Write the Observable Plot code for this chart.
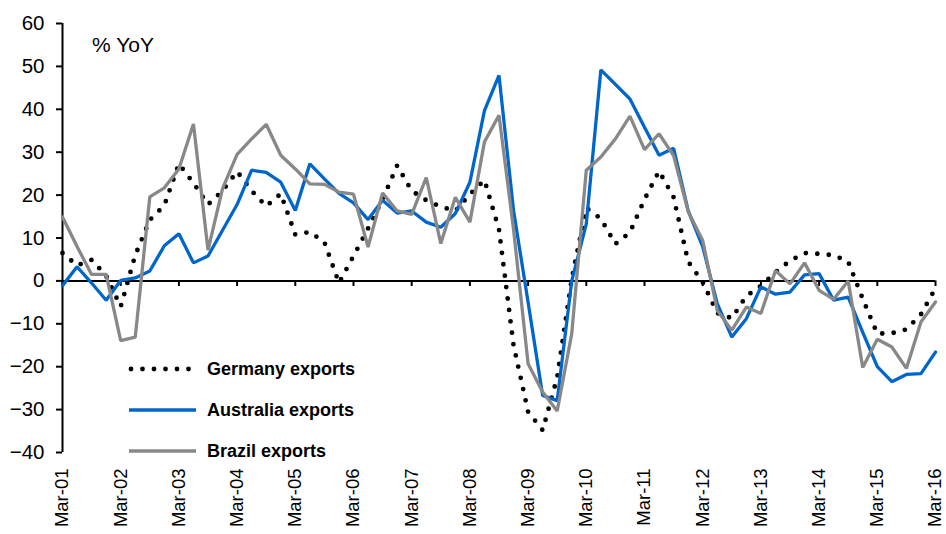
<!DOCTYPE html>
<html>
<head>
<meta charset="utf-8">
<script src="https://cdn.jsdelivr.net/npm/d3@7"></script>
<script src="https://cdn.jsdelivr.net/npm/@observablehq/plot@0.6"></script>
<style>
  html, body { margin: 0; padding: 0; background: #fff; }
  #wrap { position: relative; width: 946px; height: 534px; font-family: "Liberation Sans", Arial, sans-serif; color: #000; }
  #wrap svg.plot { display: block; }
  .unit { position: absolute; left: 92px; top: 34px; font-size: 21px; line-height: 1; }
  .legend { position: absolute; left: 128px; top: 355px; }
  .legend .item { position: absolute; left: 0; height: 28px; width: 260px; }
  .legend .item svg { position: absolute; left: 0; top: 0; }
  .legend .item span { position: absolute; left: 79px; top: 3px; font-size: 18px; font-weight: bold; line-height: 22px; white-space: nowrap; }
</style>
</head>
<body>
<div id="wrap"></div>
<script>
// Quarterly % YoY, Mar-01 .. Mar-16
const germany = [6.5, 3.6, 4.9, 1.2, -6, 6, 14.2, 17.6, 27.3, 22.8, 17.8, 21, 25.5, 21, 17.4, 20.3,
  10.8, 11.4, 9, -0.5, 5.8, 12.2, 19, 26.9, 21, 18.8, 17.3, 16.3, 20.2, 23.5, 12, -15, -30.5, -34.8,
  -22.5, 0.5, 17, 14.5, 8.6, 11.3, 19, 25.6, 19.5, 4.5, -0.3, -7.5, -8.7, -3.5, -1.2, 2, 4.7, 6.5,
  6.3, 6, 4.5, -4.2, -12.3, -12.2, -11.3, -7.8, -1.7];
const australia = [-1.1, 3.3, -0.5, -4.5, 0.1, 0.7, 2.3, 8.2, 11, 4.2, 5.8, 11.8, 17.8, 25.8, 25.3, 23,
  16.4, 27.3, 23.8, 20.4, 18.2, 14.3, 18.8, 15.8, 16.3, 13.7, 12.5, 15.7, 23, 39.7, 47.9, 16.4, -5,
  -26.7, -27.9, 0, 13.3, 49.2, 45.8, 42.4, 35.8, 29.3, 30.9, 16.4, 8, -5.3, -13.1, -8.8, -1.4, -3.1,
  -2.6, 1.4, 1.7, -4.5, -3.8, -12, -20, -23.5, -21.8, -21.6, -16.6];
const brazil = [14.9, 8, 1.5, 1.5, -13.9, -13.1, 19.6, 21.7, 26.1, 36.6, 7.2, 21.5, 29.5, 33.1, 36.5,
  29.3, 26.1, 22.6, 22.5, 20.7, 20.2, 7.9, 20.5, 16.3, 15.5, 24.1, 8.7, 19.5, 13.7, 32.4, 38.6, 12,
  -19.3, -25.9, -30.3, -12.3, 25.8, 28.9, 33.1, 38.4, 30.6, 34.3, 29.2, 16.2, 9.4, -6.9, -11.5, -6.1,
  -7.6, 2.4, -0.7, 4.2, -2.2, -4.3, 0, -20.2, -13.6, -15.4, -20.4, -9.6, -4.9];
const tickLabels = ["Mar-01", "Mar-02", "Mar-03", "Mar-04", "Mar-05", "Mar-06", "Mar-07", "Mar-08",
  "Mar-09", "Mar-10", "Mar-11", "Mar-12", "Mar-13", "Mar-14", "Mar-15", "Mar-16"];
const yTicks = [-40, -30, -20, -10, 0, 10, 20, 30, 40, 50, 60];
const seriesNames = ["Germany exports", "Australia exports", "Brazil exports"];
const colors = { germany: "#000000", australia: "#0066cc", brazil: "#888888" };

const tickIdx = tickLabels.map((_, k) => k * 4); // one label per year = every 4 quarters
const fmtX = (v) => tickLabels[v / 4];

const chart = Plot.plot({
  width: 946,
  height: 534,
  marginLeft: 62,
  marginRight: 11,
  marginTop: 23,
  marginBottom: 82,
  style: { fontFamily: "'Liberation Sans', Arial, sans-serif", fontSize: "20px", color: "#000", background: "#fff", overflow: "visible" },
  x: { domain: [0, germany.length - 1] },
  y: { domain: [-40, 60] },
  marks: [
    Plot.axisY({ ticks: yTicks, tickSize: 6, tickPadding: 12, strokeWidth: 2, fontSize: 20.5, label: null }),
    Plot.axisX({ ticks: tickIdx, tickFormat: fmtX, tickSize: 0, tickPadding: 16, tickRotate: -90, fontSize: 18.5, label: null }),
    Plot.ruleY([0], { stroke: "#000", strokeWidth: 2 }),
    Plot.ruleX(tickIdx, { x: (d) => d, y1: () => 0, y2: () => -1.3, stroke: "#000", strokeWidth: 2 }),
    Plot.ruleX([0], { stroke: "#000", strokeWidth: 2 }),
    Plot.line(germany, { x: (d, i) => i, y: (d) => d, stroke: colors.germany, strokeWidth: 4.8, strokeDasharray: "0 11.5", strokeLinecap: "round", strokeLinejoin: "round" }),
    Plot.line(australia, { x: (d, i) => i, y: (d) => d, stroke: colors.australia, strokeWidth: 3.3, strokeLinejoin: "miter" }),
    Plot.line(brazil, { x: (d, i) => i, y: (d) => d, stroke: colors.brazil, strokeWidth: 3.3, strokeLinejoin: "miter" })
  ]
});
chart.classList.add("plot");

const wrap = document.getElementById("wrap");
wrap.appendChild(chart);

const unit = document.createElement("div");
unit.className = "unit";
unit.textContent = "% YoY";
wrap.appendChild(unit);

const legend = document.createElement("div");
legend.className = "legend";
const styles = [
  { stroke: colors.germany, width: 4.8, dash: "0 11.5", cap: "round" },
  { stroke: colors.australia, width: 3.3, dash: null, cap: "butt" },
  { stroke: colors.brazil, width: 3.3, dash: null, cap: "butt" }
];
seriesNames.forEach((name, k) => {
  const item = document.createElement("div");
  item.className = "item";
  item.style.top = (k * 41) + "px";
  const ns = "http://www.w3.org/2000/svg";
  const s = document.createElementNS(ns, "svg");
  s.setAttribute("width", "72");
  s.setAttribute("height", "28");
  const l = document.createElementNS(ns, "line");
  l.setAttribute("x1", k === 0 ? "3" : "1");
  l.setAttribute("x2", "68");
  l.setAttribute("y1", "14");
  l.setAttribute("y2", "14");
  l.setAttribute("stroke", styles[k].stroke);
  l.setAttribute("stroke-width", styles[k].width);
  l.setAttribute("stroke-linecap", styles[k].cap);
  if (styles[k].dash) l.setAttribute("stroke-dasharray", styles[k].dash);
  s.appendChild(l);
  item.appendChild(s);
  const t = document.createElement("span");
  t.textContent = name;
  item.appendChild(t);
  legend.appendChild(item);
});
wrap.appendChild(legend);
</script>
</body>
</html>
